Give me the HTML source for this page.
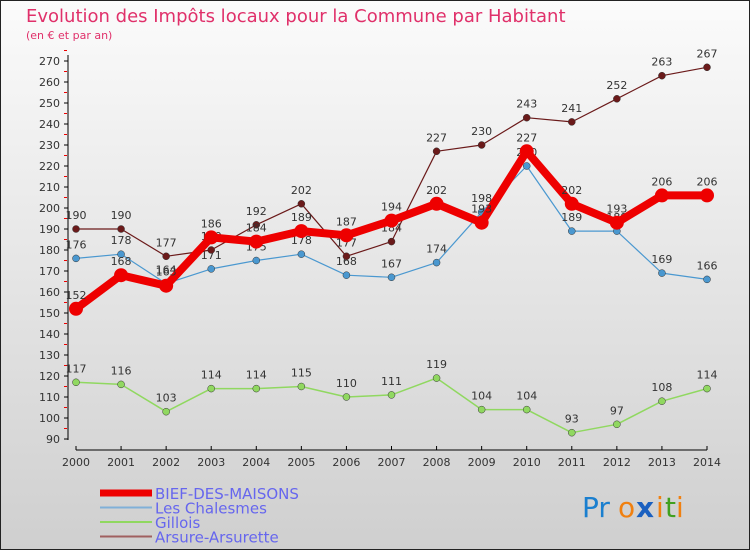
<!DOCTYPE html>
<html><head><meta charset="utf-8"><style>
body{margin:0}
#c{width:750px;height:550px;position:relative;overflow:hidden;font-family:"DejaVu Sans","Liberation Sans",sans-serif;}
</style></head><body>
<div id="c">
<svg id="s" width="750" height="550" xmlns="http://www.w3.org/2000/svg">
<defs><linearGradient id="bg" x1="0" y1="0" x2="0" y2="1"><stop offset="0" stop-color="#fbfbfb"/><stop offset="1" stop-color="#cfcfcf"/></linearGradient></defs>
<rect x="0.5" y="0.5" width="749" height="549" fill="url(#bg)" stroke="#222"/>
<text x="26" y="22" font-size="18" fill="#e0306a">Evolution des Impôts locaux pour la Commune par Habitant</text>
<text x="26" y="39" font-size="11" fill="#e0306a">(en € et par an)</text>
<g id="axes"></g><g id="series"></g><g id="legend"></g>
<g font-size="28" font-family="DejaVu Sans, sans-serif">
<text x="582" y="517" fill="#1a7fcf">Pr</text><text x="618" y="517" fill="#f08010">o</text><text x="636" y="517" fill="#1a60c0" font-weight="bold">x</text><text x="656" y="517" fill="#f08010">i</text><text x="665" y="517" fill="#40a020">t</text><text x="676" y="517" fill="#f08010">i</text>
</g>
</svg>
</div>
<script>
const years=[2000,2001,2002,2003,2004,2005,2006,2007,2008,2009,2010,2011,2012,2013,2014];
const yTicks=[90,100,110,120,130,140,150,160,170,180,190,200,210,220,230,240,250,260,270];
const bief=[152,168,163,186,184,189,187,194,202,193,227,202,193,206,206];
const chalesmes=[176,178,164,171,175,178,168,167,174,198,220,189,189,169,166];
const gillois=[117,116,103,114,114,115,110,111,119,104,104,93,97,108,114];
const arsure=[190,190,177,180,192,202,177,184,227,230,243,241,252,263,267];
const NS="http://www.w3.org/2000/svg";
const X=i=>76+i*(707-76)/(years.length-1);
const Y=v=>439-(v-90)*2.1;
function el(t,a,p){const e=document.createElementNS(NS,t);for(const k in a)e.setAttribute(k,a[k]);p.appendChild(e);return e;}
const ax=document.getElementById('axes');
const yaxis=el('line',{x1:68,y1:55,x2:68,y2:440,stroke:'#000'},ax);


yTicks.forEach(v=>{
 el('line',{x1:64,y1:Y(v),x2:68,y2:Y(v),stroke:'#000'},ax);
 el('line',{x1:64,y1:Y(v)-10.5,x2:67,y2:Y(v)-10.5,stroke:'#e00'},ax);
 const t=el('text',{x:60,y:Y(v)+4,'font-size':11,fill:'#333','text-anchor':'end'},ax);t.textContent=v;
 
 
});
const xaxis=el('line',{x1:76,y1:450,x2:707,y2:450,stroke:'#000'},ax);


years.forEach((y,i)=>{
 el('line',{x1:X(i),y1:446,x2:X(i),y2:450,stroke:'#000'},ax);
 const t=el('text',{x:X(i),y:466,'font-size':11,fill:'#333','text-anchor':'middle'},ax);t.textContent=y;
 
 
});
const sg=document.getElementById('series');
function draw(vals,color,w,r,name){
 const g=el('g',{},sg);
 
 
 el('polyline',{points:vals.map((v,i)=>X(i)+','+Y(v)).join(' '),fill:'none',stroke:color,'stroke-width':w,'stroke-linejoin':'round'},g);
 vals.forEach((v,i)=>{
  const c=el('circle',{cx:X(i),cy:Y(v),r:r,fill:color,stroke:w>3?color:'#333','stroke-width':w>3?0:0.5},g);
  
  
  const t=el('text',{x:X(i),y:Y(v)-10,'font-size':11,fill:'#333','text-anchor':'middle'},g);t.textContent=v;
  
  
 });
}
draw(gillois,'#90d860',1.5,3.5,'series-gillois');
draw(chalesmes,'#4a98d0',1.2,3.5,'series-les-chalesmes');
draw(arsure,'#6b1a1a',1.2,3.5,'series-arsure-arsurette');
draw(bief,'#ee0000',8,7,'series-bief-des-maisons');
const lg=document.getElementById('legend');
const items=[['BIEF-DES-MAISONS','#ee0000',7],['Les Chalesmes','#80b0d8',2],['Gillois','#90d860',2],['Arsure-Arsurette','#a06060',2]];
items.forEach((it,k)=>{
 const y=493+k*14.5;
 const g=el('g',{},lg);
 
 
 el('line',{x1:100,y1:y,x2:152,y2:y,stroke:it[1],'stroke-width':it[2]},g);
 const t=el('text',{x:155,y:y+6,'font-size':15,fill:'#6666ee'},g);t.textContent=it[0];
});
</script>
</body></html>
